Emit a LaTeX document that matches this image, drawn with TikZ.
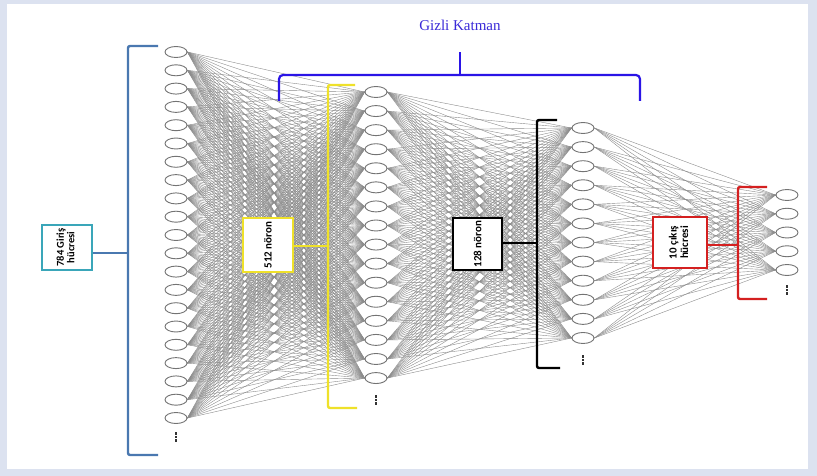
\documentclass[tikz,border=0pt]{standalone}
\usepackage{fontspec}
\setmainfont{Liberation Serif}
\newfontfamily\boxfont{Carlito}
\usetikzlibrary{shapes.geometric}
\pgfdeclarelayer{bg}
\pgfdeclarelayer{lines}
\pgfsetlayers{bg,lines,main}
\definecolor{frame}{HTML}{DCE2F0}
\definecolor{titleblue}{HTML}{3A2AD8}
\definecolor{braceblue}{HTML}{2A14E6}
\definecolor{inblue}{HTML}{4A78B0}
\definecolor{teal}{HTML}{3AA6B9}
\definecolor{yel}{HTML}{EFE12A}
\definecolor{redb}{HTML}{D42020}
\tikzset{
  neuron/.style={ellipse, draw=black!55, line width=0.9pt, fill=white, minimum width=22pt, minimum height=11pt, inner sep=0pt},
  conn/.style={draw=black!45, line width=0.4pt},
  brk/.style={line width=2.4pt, rounded corners=2pt},
  labelbox/.style={draw, fill=white, inner sep=0pt, font=\boxfont\bfseries}
}
\begin{document}
\begin{tikzpicture}[x=1pt,y=-1pt]
\useasboundingbox (0,0) rectangle (817,476);
\begin{pgfonlayer}{bg}
\fill[frame] (0,0) rectangle (817,476);
\fill[white] (7,4) rectangle (808,469);
\end{pgfonlayer}
% neurons
\foreach \k in {1,...,21} \node[neuron] (i\k) at (176,{52+(\k-1)*18.3}) {};
\foreach \k in {1,...,16} \node[neuron] (h\k) at (376,{92+(\k-1)*19.07}) {};
\foreach \k in {1,...,12} \node[neuron] (g\k) at (583,{128+(\k-1)*19.09}) {};
\foreach \k in {1,...,5} \node[neuron] (o\k) at (787,{195+(\k-1)*18.75}) {};
% continuation dots
\foreach \x/\y in {176/437, 376/400, 583/360, 787/290}
  \foreach \d in {-3.6,0,3.6}
    \fill[black!80] ({\x-1.3},{\y+\d-1.2}) rectangle ({\x+1.3},{\y+\d+1.2});
% connections
\begin{pgfonlayer}{lines}
\foreach \a in {1,...,21} \foreach \b in {1,...,16} \draw[conn] (i\a.east) -- (h\b.west);
\foreach \a in {1,...,16} \foreach \b in {1,...,12} \draw[conn] (h\a.east) -- (g\b.west);
\foreach \a in {1,...,12} \foreach \b in {1,...,5} \draw[conn] (g\a.east) -- (o\b.west);
\end{pgfonlayer}
% title and top brace
\node[text=titleblue, font=\fontsize{15}{17}\selectfont] (title) at (460,25) {Gizli Katman};
\coordinate (bl) at (279,101);
\coordinate (br) at (640,101);
\coordinate (bm) at (460,75);
\coordinate (bt) at (460,52);
\draw[braceblue, line width=2.2pt, rounded corners=4pt] (bl) -- (279,75) -- (640,75) -- (br);
\draw[braceblue, line width=2.2pt] (bm) -- (bt);
% input bracket
\draw[inblue, brk] (158,46) -- (128,46) -- (128,455) -- (158,455);
\coordinate (n1) at (128,253);
\node[labelbox, draw=teal, line width=2pt, minimum width=50pt, minimum height=45pt] (box1) at (67,247.5)
  {\rotatebox{90}{\fontsize{10.5}{10.5}\selectfont\begin{tabular}{@{}c@{}}784 Giriş\\hücresi\end{tabular}}};
\draw[inblue, line width=2.4pt] (box1.east |- n1) -- (n1);
% yellow bracket
\draw[yel, brk] (355,85) -- (328,85) -- (328,408) -- (357,408);
\coordinate (n2) at (328,246);
\node[labelbox, draw=yel, line width=2.5pt, minimum width=50pt, minimum height=54pt] (box2) at (268,245)
  {\rotatebox{90}{\fontsize{11}{12}\selectfont 512 nöron}};
\draw[yel, line width=2.4pt] (box2.east |- n2) -- (n2);
% black bracket
\draw[black, brk] (557,120) -- (537,120) -- (537,368) -- (560,368);
\coordinate (n3) at (537,243);
\node[labelbox, draw=black, line width=2pt, minimum width=49pt, minimum height=52pt] (box3) at (477.5,244)
  {\rotatebox{90}{\fontsize{11}{12}\selectfont 128 nöron}};
\draw[black, line width=2.4pt] (box3.east |- n3) -- (n3);
% red bracket
\draw[redb, brk] (767,187) -- (738,187) -- (738,299) -- (767,299);
\coordinate (n4) at (738,245);
\node[labelbox, draw=redb, line width=2.5pt, minimum width=54pt, minimum height=51pt] (box4) at (680,242.5)
  {\rotatebox{90}{\fontsize{11}{11.5}\selectfont\begin{tabular}{@{}c@{}}10 çıkış\\hücresi\end{tabular}}};
\draw[redb, line width=2.4pt] (box4.east |- n4) -- (n4);
\end{tikzpicture}
\end{document}
